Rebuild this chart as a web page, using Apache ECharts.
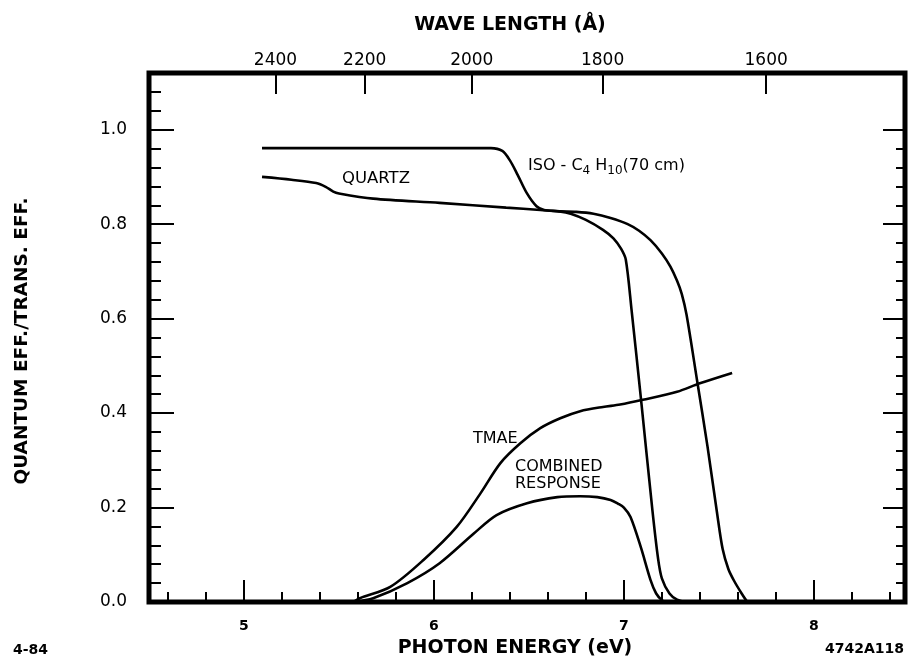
<!DOCTYPE html>
<html>
<head>
<meta charset="utf-8">
<script src="https://cdn.jsdelivr.net/npm/echarts@6/dist/echarts.min.js"></script>
<style>
  html, body { margin: 0; padding: 0; background: #fff; }
  #main { width: 909px; height: 665px; }
</style>
</head>
<body>
<div id="main"></div>
<script>
// hc in eV·Å, used to place the wavelength scale on the energy axis
const HC = 12398.4;

// Axis extents and tick values
const ENERGY_MIN = 4.5;
const ENERGY_MAX = 8.48;
const EFF_MIN = 0;
const EFF_MAX = 1.12;
const energyLabels = [5, 6, 7, 8];
const wavelengthLabels = [2400, 2200, 2000, 1800, 1600];
const efficiencyLabels = [0, 0.2, 0.4, 0.6, 0.8, 1.0];

// Curves: [photon energy (eV), efficiency / transmission]
const quartz = [
  [5.095, 0.900], [5.25, 0.894], [5.38, 0.887], [5.43, 0.879], [5.47, 0.869],
  [5.50, 0.865], [5.68, 0.854], [6.03, 0.845], [6.38, 0.835], [6.56, 0.830],
  [6.66, 0.827], [6.75, 0.826], [6.84, 0.822], [6.93, 0.813], [7.02, 0.800],
  [7.08, 0.786], [7.14, 0.766], [7.20, 0.738], [7.245, 0.710], [7.28, 0.680],
  [7.305, 0.652], [7.33, 0.608], [7.385, 0.470], [7.44, 0.330], [7.49, 0.190],
  [7.52, 0.112], [7.55, 0.070], [7.58, 0.045], [7.62, 0.018], [7.65, 0.0]
];

const isoButane = [
  [5.095, 0.961], [5.70, 0.961], [6.30, 0.961], [6.36, 0.955], [6.40, 0.935],
  [6.44, 0.905], [6.49, 0.865], [6.54, 0.838], [6.58, 0.830], [6.66, 0.827],
  [6.72, 0.822], [6.80, 0.809], [6.89, 0.788], [6.945, 0.770], [6.985, 0.748],
  [7.01, 0.725], [7.04, 0.620], [7.09, 0.430], [7.15, 0.195], [7.18, 0.092],
  [7.20, 0.050], [7.24, 0.018], [7.28, 0.005], [7.33, 0.0]
];

const tmae = [
  [5.575, 0.0], [5.61, 0.008], [5.77, 0.032], [5.945, 0.089], [6.12, 0.159],
  [6.245, 0.230], [6.35, 0.294], [6.455, 0.336], [6.56, 0.368], [6.665, 0.389],
  [6.77, 0.404], [6.89, 0.413], [6.98, 0.418], [7.10, 0.428], [7.28, 0.445],
  [7.40, 0.463], [7.57, 0.485]
];

const combined = [
  [5.58, 0.0], [5.68, 0.008], [5.86, 0.040], [6.03, 0.082], [6.21, 0.145],
  [6.33, 0.184], [6.49, 0.209], [6.65, 0.222], [6.77, 0.224], [6.86, 0.222],
  [6.93, 0.216], [6.97, 0.208], [7.00, 0.200], [7.035, 0.180], [7.09, 0.115],
  [7.14, 0.047], [7.17, 0.018], [7.20, 0.004], [7.22, 0.0]
];

// Minor tick positions between the labelled ticks
function tickRange(from, to, step, skipEvery) {
  const out = [];
  for (let i = 0; ; i++) {
    const v = Math.round((from + i * step) * 1000) / 1000;
    if (v > to + 1e-9) break;
    const r = v / skipEvery;
    if (Math.abs(r - Math.round(r)) > 1e-6) out.push(v);
  }
  return out;
}
const energyMinor = tickRange(4.6, 8.4, 0.2, 1);
const effMinorLeft = tickRange(0.04, 1.08, 0.04, 0.2);
const effMinorRight = tickRange(0.04, 0.96, 0.04, 0.2);
const wavelengthEnergies = wavelengthLabels.map(w => HC / w);

const FONT = 'DejaVu Sans';
const INK = '#000';

const chart = echarts.init(document.getElementById('main'), null, { renderer: 'canvas' });

function hiddenAxisBits() {
  return { splitLine: { show: false }, axisLine: { show: false, onZero: false } };
}

const lineSeries = (name, data) => ({
  name,
  type: 'line',
  data,
  xAxisIndex: 0,
  yAxisIndex: 0,
  showSymbol: false,
  symbol: 'none',
  smooth: 0.3,
  lineStyle: { color: INK, width: 2.6 },
  silent: true,
  animation: false
});

chart.setOption({
  animation: false,
  backgroundColor: '#fff',
  grid: {
    left: 149, right: 4, top: 73, bottom: 63,
    show: true, borderWidth: 5, borderColor: INK, backgroundColor: 'transparent'
  },
  xAxis: [
    {
      type: 'value', position: 'bottom', min: ENERGY_MIN, max: ENERGY_MAX,
      ...hiddenAxisBits(),
      axisTick: { show: true, inside: true, length: 22, customValues: energyLabels,
                  lineStyle: { color: INK, width: 2 } },
      axisLabel: { show: true, customValues: energyLabels, margin: 17, color: INK,
                   fontFamily: FONT, fontSize: 14, fontWeight: 'bold' }
    },
    {
      type: 'value', position: 'bottom', min: ENERGY_MIN, max: ENERGY_MAX,
      ...hiddenAxisBits(),
      axisTick: { show: true, inside: true, length: 10, customValues: energyMinor,
                  lineStyle: { color: INK, width: 2 } },
      axisLabel: { show: false }
    },
    {
      type: 'value', position: 'top', min: ENERGY_MIN, max: ENERGY_MAX,
      ...hiddenAxisBits(),
      axisTick: { show: true, inside: true, length: 21, customValues: wavelengthEnergies,
                  lineStyle: { color: INK, width: 2 } },
      axisLabel: { show: true, customValues: wavelengthEnergies, margin: 4, color: INK,
                   fontFamily: FONT, fontSize: 17,
                   formatter: v => String(Math.round(HC / v / 100) * 100) }
    }
  ],
  yAxis: [
    {
      type: 'value', position: 'left', min: EFF_MIN, max: EFF_MAX,
      ...hiddenAxisBits(),
      axisTick: { show: true, inside: true, length: 25, customValues: efficiencyLabels,
                  lineStyle: { color: INK, width: 2 } },
      axisLabel: { show: true, customValues: efficiencyLabels, margin: 22, color: INK,
                   fontFamily: FONT, fontSize: 17,
                   formatter: v => v.toFixed(1) }
    },
    {
      type: 'value', position: 'left', min: EFF_MIN, max: EFF_MAX,
      ...hiddenAxisBits(),
      axisTick: { show: true, inside: true, length: 12, customValues: effMinorLeft,
                  lineStyle: { color: INK, width: 2 } },
      axisLabel: { show: false }
    },
    {
      type: 'value', position: 'right', min: EFF_MIN, max: EFF_MAX,
      ...hiddenAxisBits(),
      axisTick: { show: true, inside: true, length: 22, customValues: efficiencyLabels.slice(1),
                  lineStyle: { color: INK, width: 2 } },
      axisLabel: { show: false }
    },
    {
      type: 'value', position: 'right', min: EFF_MIN, max: EFF_MAX,
      ...hiddenAxisBits(),
      axisTick: { show: true, inside: true, length: 9, customValues: effMinorRight,
                  lineStyle: { color: INK, width: 2 } },
      axisLabel: { show: false }
    }
  ],
  series: [
    lineSeries('Quartz', quartz),
    lineSeries('ISO-C4H10 (70 cm)', isoButane),
    lineSeries('TMAE', tmae),
    lineSeries('Combined response', combined)
  ],
  graphic: [
    { type: 'text', x: 515, y: 648, silent: true,
      style: { text: 'PHOTON ENERGY (eV)', align: 'center', verticalAlign: 'middle',
               fill: INK, font: 'bold 19px "DejaVu Sans"' } },
    { type: 'text', x: 510, y: 25, silent: true,
      style: { text: 'WAVE LENGTH (Å)', align: 'center', verticalAlign: 'middle',
               fill: INK, font: 'bold 19px "DejaVu Sans"' } },
    { type: 'text', x: 22, y: 341, rotation: Math.PI / 2, silent: true,
      style: { text: 'QUANTUM EFF./TRANS. EFF.', align: 'center', verticalAlign: 'middle',
               fill: INK, font: 'bold 18.5px "DejaVu Sans"' } },
    { type: 'text', x: 342, y: 179, silent: true,
      style: { text: 'QUARTZ', align: 'left', verticalAlign: 'middle',
               fill: INK, font: '16.5px "DejaVu Sans"' } },
    { type: 'text', x: 528, y: 166, silent: true,
      style: { text: 'ISO - C{s|4} H{s|10}(70 cm)', align: 'left', verticalAlign: 'middle',
               fill: INK, font: '16px "DejaVu Sans"', lineHeight: 22,
               rich: { s: { fontSize: 12, fontFamily: FONT, fill: INK, lineHeight: 12,
                            padding: [10, 0, 0, 0] } } } },
    { type: 'text', x: 473, y: 439, silent: true,
      style: { text: 'TMAE', align: 'left', verticalAlign: 'middle',
               fill: INK, font: '16px "DejaVu Sans"' } },
    { type: 'text', x: 515, y: 467, silent: true,
      style: { text: 'COMBINED', align: 'left', verticalAlign: 'middle',
               fill: INK, font: '16px "DejaVu Sans"' } },
    { type: 'text', x: 515, y: 483.5, silent: true,
      style: { text: 'RESPONSE', align: 'left', verticalAlign: 'middle',
               fill: INK, font: '16px "DejaVu Sans"' } },
    { type: 'text', x: 13, y: 650, silent: true,
      style: { text: '4-84', align: 'left', verticalAlign: 'middle',
               fill: INK, font: 'bold 14px "DejaVu Sans"' } },
    { type: 'text', x: 825, y: 649, silent: true,
      style: { text: '4742A118', align: 'left', verticalAlign: 'middle',
               fill: INK, font: 'bold 14px "DejaVu Sans"' } }
  ]
});
</script>
</body>
</html>
